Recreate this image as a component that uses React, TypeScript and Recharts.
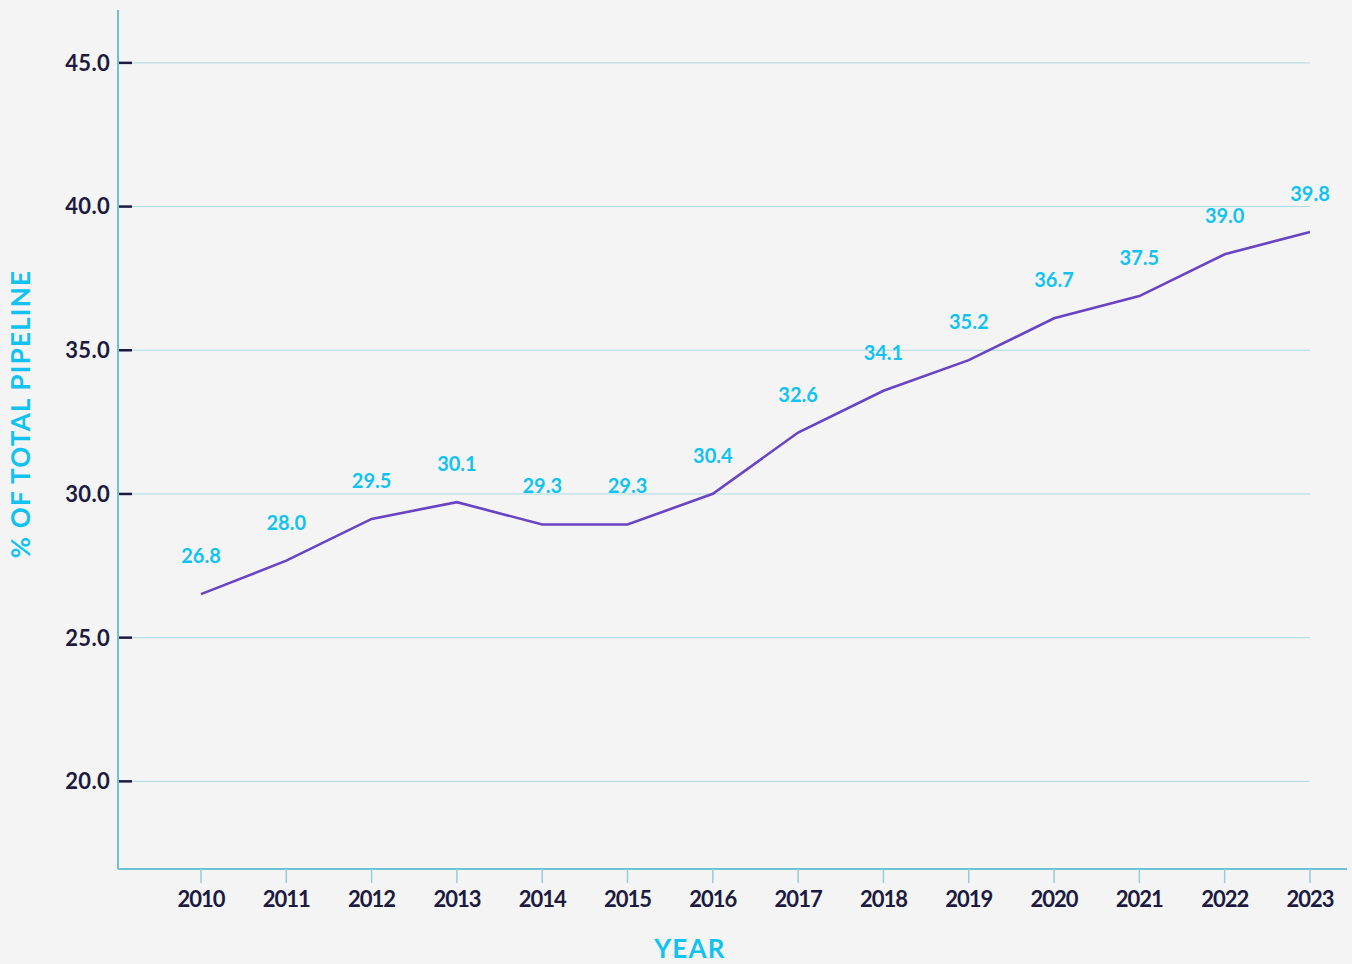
import React from "react";
import {
  LineChart,
  Line,
  XAxis,
  YAxis,
  ReferenceLine,
  LabelList,
} from "recharts";

// ---------------------------------------------------------------------------
// Data
// ---------------------------------------------------------------------------

const YEARS = [2010, 2011, 2012, 2013, 2014, 2015, 2016, 2017, 2018, 2019, 2020, 2021, 2022, 2023];
const SHARE = [26.8, 28.0, 29.5, 30.1, 29.3, 29.3, 30.4, 32.6, 34.1, 35.2, 36.7, 37.5, 39.0, 39.8];
const Y_TICKS = [20, 25, 30, 35, 40, 45];

const chartData = YEARS.map((year, i) => ({ year, share: SHARE[i] }));

// ---------------------------------------------------------------------------
// Styles
// ---------------------------------------------------------------------------

const FONT = "Lato, 'Open Sans', sans-serif";
const NAVY = "#1c1b3f";
const CYAN = "#12c3f2";
const PURPLE = "#6a44c2";
const AXIS = "#6dc3d6";
const GRID = "#acd9e4";

// y tick: label left of the axis, short dark dash just inside it
function YTick(props: any) {
  const { x, y, payload } = props;
  return (
    <g>
      <line x1={x + 9} x2={x + 22} y1={y} y2={y} stroke={NAVY} strokeWidth={2.5} />
      <text
        x={x}
        y={y}
        dy="0.36em"
        textAnchor="end"
        fill={NAVY}
        fontFamily={FONT}
        fontWeight={700}
        fontSize={22}
        letterSpacing={0.3}
      >
        {Number(payload.value).toFixed(1)}
      </text>
    </g>
  );
}

export default function App() {
  return (
    <div style={{ position: "relative", width: 1352, height: 964, background: "#f4f4f4", overflow: "hidden" }}>
      <style>{`body{margin:0}`}</style>
      <LineChart
        width={1352}
        height={964}
        data={chartData}
        margin={{ top: 10, right: 5, left: 0, bottom: 0 }}
      >
        <XAxis
          dataKey="year"
          type="number"
          domain={[2009.027, 2023.434]}
          ticks={YEARS}
          allowDataOverflow
          height={95}
          axisLine={{ stroke: AXIS, strokeWidth: 2 }}
          tickLine={{ stroke: "#8fd0de", strokeWidth: 1.5 }}
          tickSize={14}
          tickMargin={8}
          tick={{ fill: NAVY, fontFamily: FONT, fontWeight: 700, fontSize: 22, letterSpacing: -1 }}
        />
        <YAxis
          yAxisId="grid"
          type="number"
          domain={[16.95, 46.84]}
          ticks={Y_TICKS}
          allowDataOverflow
          width={118}
          axisLine={{ stroke: AXIS, strokeWidth: 2 }}
          tickLine={false}
          tickSize={0}
          tickMargin={8}
          tick={<YTick />}
        />
        {/* data scale: the printed ticks don't sit exactly on the plotted values */}
        <YAxis
          yAxisId="data"
          orientation="right"
          width={0}
          type="number"
          domain={[16.93, 47.77]}
          allowDataOverflow
          hide
        />
        {Y_TICKS.map((t) => (
          <ReferenceLine
            key={t}
            yAxisId="grid"
            segment={[
              { x: 2009.19, y: t },
              { x: 2023, y: t },
            ]}
            stroke={GRID}
            strokeWidth={1}
          />
        ))}
        <Line
          yAxisId="data"
          dataKey="share"
          type="linear"
          stroke={PURPLE}
          strokeWidth={2.6}
          dot={false}
          activeDot={false}
          isAnimationActive={false}
        >
          <LabelList
            dataKey="share"
            position="top"
            offset={31}
            formatter={(v: any) => Number(v).toFixed(1)}
            style={{ fill: CYAN, fontFamily: FONT, fontWeight: 700, fontSize: 20 }}
          />
        </Line>
      </LineChart>
      <div
        style={{
          position: "absolute",
          left: 20,
          top: 414,
          transform: "translate(-50%, -50%) rotate(-90deg)",
          whiteSpace: "nowrap",
          lineHeight: 1,
          color: CYAN,
          fontFamily: FONT,
          fontWeight: 700,
          fontSize: 26,
          letterSpacing: 1.2,
        }}
      >
        % OF TOTAL PIPELINE
      </div>
      <div
        style={{
          position: "absolute",
          left: 690,
          top: 935,
          transform: "translateX(-50%)",
          whiteSpace: "nowrap",
          lineHeight: 1,
          color: CYAN,
          fontFamily: FONT,
          fontWeight: 700,
          fontSize: 26,
          letterSpacing: 1.2,
        }}
      >
        YEAR
      </div>
    </div>
  );
}
